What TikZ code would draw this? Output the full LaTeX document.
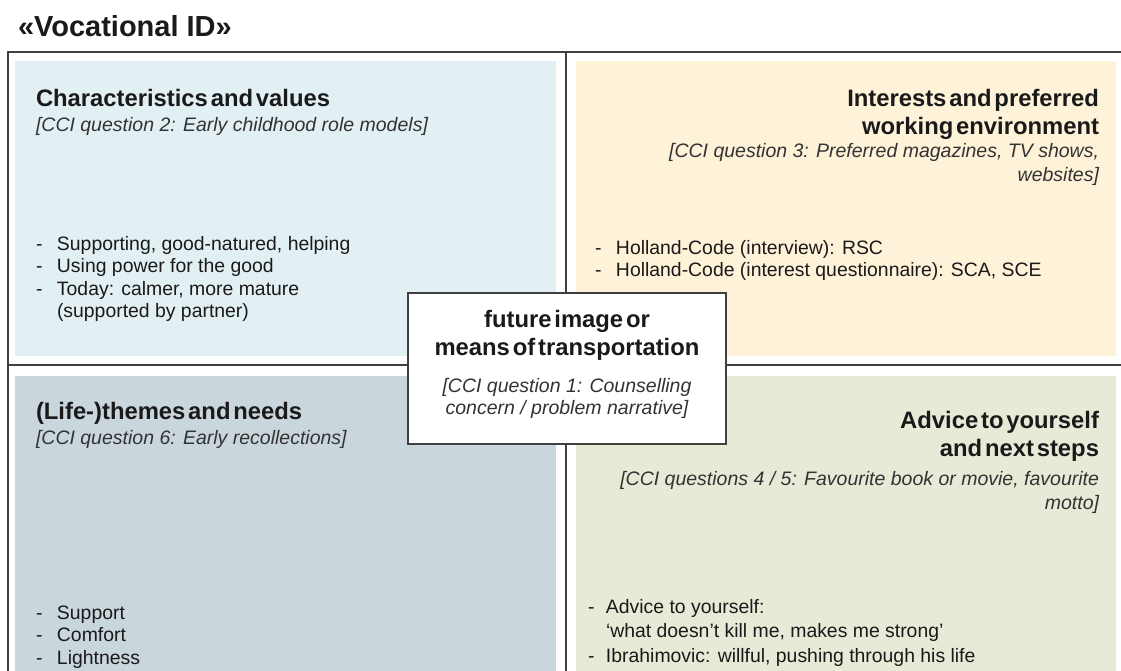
\documentclass[tikz,border=0pt]{standalone}
\usepackage{fontspec}
\setmainfont{Liberation Sans}
\definecolor{cBlue}{HTML}{E2F0F4}
\definecolor{cYellow}{HTML}{FEF2D9}
\definecolor{cGrey}{HTML}{C9D6DC}
\definecolor{cGreen}{HTML}{E6EAD6}
\definecolor{cFrame}{HTML}{404040}
\definecolor{cText}{HTML}{1A1A1A}
\definecolor{cSub}{HTML}{333333}
\newcommand\hdfont{\fontsize{23.8}{28}\selectfont\bfseries\spaceskip=0.12em\relax}
\newcommand\subfont{\fontsize{19.5}{24}\selectfont\itshape}
\newcommand\bodyfont{\fontsize{19.4}{22.5}\selectfont}
\newcommand\dsh{\makebox[21pt][l]{-}}
\begin{document}
\begin{tikzpicture}[x=1pt,y=-1pt,
  frame/.style={draw=cFrame,line width=1.4pt},
  txt/.style={inner sep=0pt,outer sep=0pt,text=cText},
  sub/.style={inner sep=0pt,outer sep=0pt,text=cSub}]
\useasboundingbox (0,0) rectangle (1121,671);
% panels
\fill[cBlue]   (15,61)  rectangle (556,356);
\fill[cYellow] (576,61) rectangle (1116,356);
\fill[cGrey]   (15,376) rectangle (556,671);
\fill[cGreen]  (576,376) rectangle (1116,671);
% frame
\draw[frame] (8,671) -- (8,52) -- (1121,52);
\draw[frame] (566,52) -- (566,671);
\draw[frame] (8,365) -- (1121,365);
% title
\node[txt,anchor=base west] (title) at (18,37) {\fontsize{29}{32}\selectfont\bfseries «Vocational ID»};
% top left
\node[txt,anchor=base west] (tlh) at (36,107) {\hdfont Characteristics and values};
\node[sub,anchor=base west] (tls) at (36,132) {\subfont [CCI question 2: Early childhood role models]};
\node[txt,anchor=base west] (tlb) at (36,250) {\bodyfont\begin{tabular}[t]{@{}l@{}}
\dsh Supporting, good-natured, helping\\
\dsh Using power for the good\\
\dsh Today: calmer, more mature\\
\hspace*{21pt}(supported by partner)\end{tabular}};
% top right
\node[txt,anchor=base east] (trh) at (1099,107) {\hdfont\begin{tabular}[t]{@{}r@{}}Interests and preferred\\working environment\end{tabular}};
\node[sub,anchor=base east] (trs) at (1099,158) {\subfont\begin{tabular}[t]{@{}r@{}}[CCI question 3: Preferred magazines, TV shows,\\websites]\end{tabular}};
\node[txt,anchor=base west] (trb) at (595,254) {\bodyfont\begin{tabular}[t]{@{}l@{}}
\dsh Holland-Code (interview): RSC\\
\dsh Holland-Code (interest questionnaire): SCA, SCE\end{tabular}};
% bottom left
\node[txt,anchor=base west] (blh) at (36,419) {\hdfont (Life-)themes and needs};
\node[sub,anchor=base west] (bls) at (36,444) {\subfont [CCI question 6: Early recollections]};
\node[txt,anchor=base west] (blb) at (36,619) {\bodyfont\begin{tabular}[t]{@{}l@{}}
\dsh Support\\
\dsh Comfort\\
\dsh Lightness\end{tabular}};
% bottom right
\node[txt,anchor=base east] (brh) at (1099,428) {\hdfont\begin{tabular}[t]{@{}r@{}}Advice to yourself\\and next steps\end{tabular}};
\node[sub,anchor=base east] (brs) at (1099,485) {\subfont\begin{tabular}[t]{@{}r@{}}[CCI questions 4 / 5: Favourite book or movie, favourite\\motto]\end{tabular}};
\node[txt,anchor=base west] (brb) at (588,613) {\fontsize{19.4}{24.5}\selectfont\begin{tabular}[t]{@{}l@{}}
\makebox[18pt][l]{-}Advice to yourself:\\
\hspace*{18pt}‘what doesn’t kill me, makes me strong’\\
\makebox[18pt][l]{-}Ibrahimovic: willful, pushing through his life\end{tabular}};
% centre box
\node[frame,fill=white,minimum width=318pt,minimum height=151pt,inner sep=0pt] (cbox) at (567,368.5) {};
\node[txt,anchor=base] (ch) at (567,327) {\hdfont\begin{tabular}[t]{@{}c@{}}future image or\\means of transportation\end{tabular}};
\node[sub,anchor=base] (cs) at (567,392) {\subfont\fontsize{19.5}{22}\selectfont\begin{tabular}[t]{@{}c@{}}[CCI question 1: Counselling\\concern / problem narrative]\end{tabular}};
\end{tikzpicture}
\end{document}
